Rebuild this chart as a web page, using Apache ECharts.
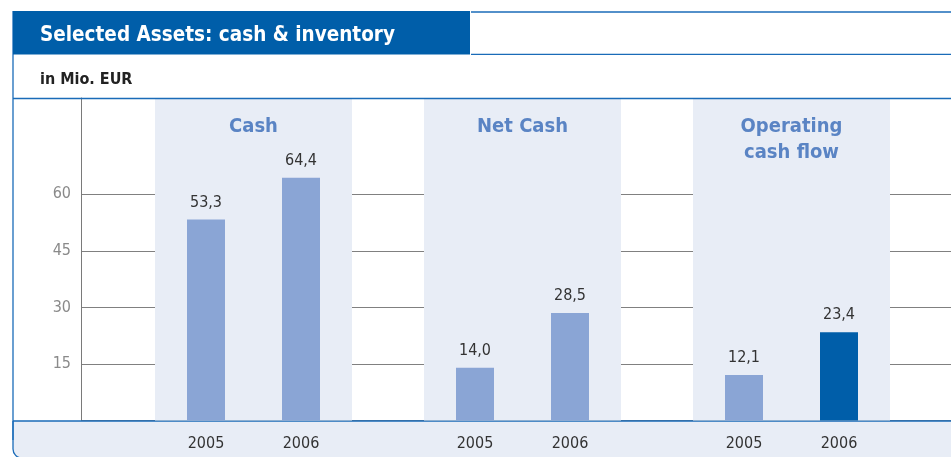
<!DOCTYPE html>
<html>
<head>
<meta charset="utf-8">
<script src="https://cdn.jsdelivr.net/npm/echarts@6/dist/echarts.min.js"></script>
<style>
html,body{margin:0;padding:0;background:#fff;}
#chart{width:951px;height:457px;}
</style>
</head>
<body>
<div id="chart"></div>
<script>
// ---- data ----
const categories = ['Cash', 'Net Cash', 'Operating\ncash flow'];
const years = ['2005', '2006'];
const values2005 = [53.3, 14.0, 12.1];
const values2006 = [64.4, 28.5, 23.4];
const highlightIndex2006 = 2;
const yTickMax = 60;
const yTickStep = 15;
const titleText = 'Selected Assets: cash & inventory';
const unitText = 'in Mio. EUR';

// ---- style ----
const FONT = '"DejaVu Sans Condensed", "Liberation Sans Narrow", sans-serif';
const BLUE = '#005ea9';
const LIGHT_BAR = '#8aa5d5';
const BAND = '#e8edf6';
const CAT_BLUE = '#5a84c4';

const plotTop = 98, plotBottomPx = 420.5, H = 457;
const pxPerUnit = (plotBottomPx - 194.3) / 60;
const yMax = (plotBottomPx - plotTop) / pxPerUnit;
const gridBottom = H - plotBottomPx;

const fmt = v => (typeof v === 'object' ? v.value : v).toFixed(1).replace('.', ',');

const chart = echarts.init(document.getElementById('chart'));
chart.setOption({
  animation: false,
  backgroundColor: '#fff',
  textStyle: { fontFamily: FONT },
  grid: [
    { left: 81, right: 0, top: plotBottomPx - yTickMax * pxPerUnit, bottom: gridBottom },
    { left: 119, right: 25, top: plotTop, bottom: gridBottom }
  ],
  xAxis: [
    { gridIndex: 0, type: 'value', show: false },
    { gridIndex: 1, type: 'category', data: categories, show: false },
    { gridIndex: 1, type: 'category', data: categories, position: 'top', z: 20,
      axisLine: { show: false }, axisTick: { show: false },
      axisLabel: { inside: true, margin: 15.5, verticalAlign: 'top', color: CAT_BLUE,
        fontFamily: FONT, fontWeight: 'bold', fontSize: 20, lineHeight: 26.5 } },
    { gridIndex: 1, type: 'category', data: categories, show: false }
  ],
  yAxis: [
    { gridIndex: 0, type: 'value', min: 0, max: yTickMax, interval: yTickStep,
      axisLine: { show: false }, axisTick: { show: false },
      axisLabel: { showMinLabel: false, margin: 10, color: '#8a8a8a', fontSize: 16, fontFamily: FONT },
      splitLine: { lineStyle: { color: '#808080', width: 1 } } },
    { gridIndex: 1, type: 'value', min: 0, max: yMax, offset: 38,
      axisLine: { show: true, lineStyle: { color: '#7a7a7a', width: 1 } },
      axisTick: { show: false }, axisLabel: { show: false }, splitLine: { show: false } }
  ],
  series: [
    { type: 'bar', xAxisIndex: 2, yAxisIndex: 1, silent: true, barWidth: 197,
      data: categories.map(() => yMax), itemStyle: { color: BAND } },
    { type: 'bar', name: years[0], xAxisIndex: 1, yAxisIndex: 1, barWidth: 38, barGap: '150%',
      data: values2005, itemStyle: { color: LIGHT_BAR },
      label: { show: true, position: 'top', distance: 9, color: '#333', fontSize: 16, fontFamily: FONT,
        formatter: p => fmt(p.value) } },
    { type: 'bar', name: years[1], xAxisIndex: 1, yAxisIndex: 1, barWidth: 38, barGap: '150%',
      data: values2006.map((v, i) => i === highlightIndex2006 ? { value: v, itemStyle: { color: BLUE } } : v),
      itemStyle: { color: LIGHT_BAR },
      label: { show: true, position: 'top', distance: 9, color: '#333', fontSize: 16, fontFamily: FONT,
        formatter: p => fmt(p.value) } },
    { type: 'bar', name: years[0] + ' label', xAxisIndex: 3, yAxisIndex: 1, barWidth: 38, barGap: '150%',
      silent: true, data: categories.map(() => 0), itemStyle: { color: 'transparent' }, z: 10,
      label: { show: true, position: 'bottom', distance: 15.5, color: '#333', fontSize: 16, fontFamily: FONT,
        formatter: () => years[0] } },
    { type: 'bar', name: years[1] + ' label', xAxisIndex: 3, yAxisIndex: 1, barWidth: 38, barGap: '150%',
      silent: true, data: categories.map(() => 0), itemStyle: { color: 'transparent' }, z: 10,
      label: { show: true, position: 'bottom', distance: 15.5, color: '#333', fontSize: 16, fontFamily: FONT,
        formatter: () => years[1] } }
  ],
  graphic: [
    { type: 'rect', z: 1, silent: true, shape: { x: 13, y: 421, width: 960, height: 37, r: [0, 0, 0, 9] },
      style: { fill: BAND, stroke: '#1a6bb8', lineWidth: 1.3 } },
    { type: 'line', z: 5, silent: true, shape: { x1: 13, y1: 11, x2: 13, y2: 440 },
      style: { stroke: '#1a6bb8', lineWidth: 1.3 } },
    { type: 'line', z: 5, silent: true, shape: { x1: 13, y1: 98.5, x2: 951, y2: 98.5 },
      style: { stroke: '#1a6bb8', lineWidth: 1.6 } },
    { type: 'line', z: 5, silent: true, shape: { x1: 471, y1: 12, x2: 951, y2: 12 },
      style: { stroke: '#1a6bb8', lineWidth: 1.3 } },
    { type: 'line', z: 5, silent: true, shape: { x1: 471, y1: 54.3, x2: 951, y2: 54.3 },
      style: { stroke: '#1a6bb8', lineWidth: 1.3 } },
    { type: 'rect', z: 6, silent: true, shape: { x: 13, y: 11, width: 457, height: 43.5 },
      style: { fill: BLUE } },
    { type: 'text', z: 7, silent: true, left: 40, top: 25,
      style: { text: titleText, fill: '#fff', font: 'bold 20.5px ' + FONT } },
    { type: 'text', z: 7, silent: true, left: 40, top: 72,
      style: { text: unitText, fill: '#222', font: 'bold 16px ' + FONT } }
  ]
});
</script>
</body>
</html>
